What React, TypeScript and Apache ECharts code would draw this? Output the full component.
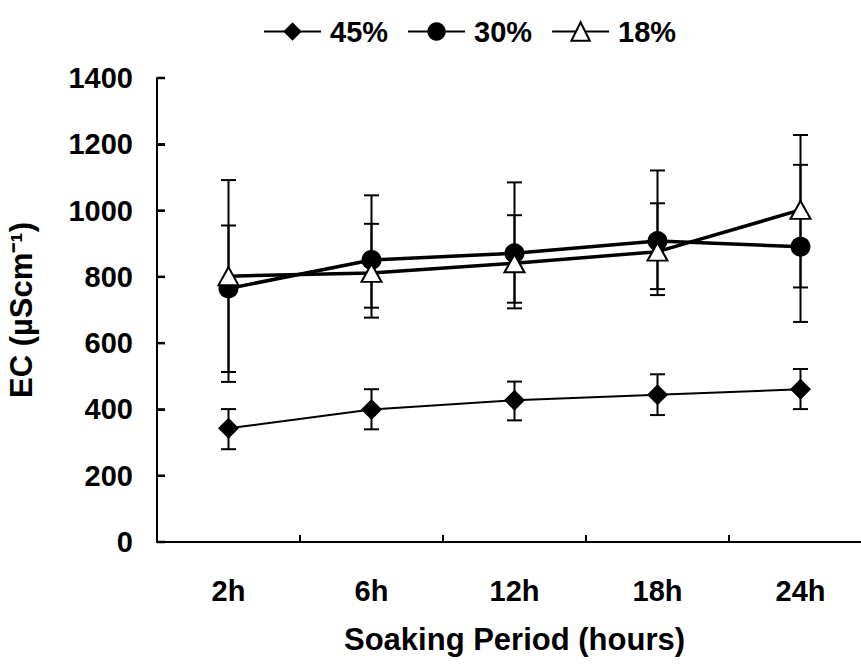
import React, { useEffect, useRef } from "react";
import * as echarts from "echarts";

const categories = ["2h", "6h", "12h", "18h", "24h"];
const seriesNames = ["45%", "30%", "18%"];

const ec45 = [343, 400, 428, 444, 461];
const ec45Low = [280, 340, 367, 383, 401];
const ec45High = [401, 461, 484, 506, 522];

const ec30 = [765, 851, 871, 908, 891];
const ec30Low = [483, 677, 705, 745, 664];
const ec30High = [955, 1046, 1085, 1121, 1138];

const ec18 = [802, 812, 841, 876, 1002];
const ec18Low = [513, 707, 722, 763, 768];
const ec18High = [1092, 960, 986, 1022, 1228];

const yTicks = { min: 0, max: 1400, interval: 200 };
const yTickValues = [0, 200, 400, 600, 800, 1000, 1200, 1400];

const FONT = "'Liberation Sans', Arial, sans-serif";

function errorSeries(name: string, low: number[], high: number[]) {
  return {
    type: "custom",
    name,
    silent: true,
    z: 1,
    encode: { x: 0, y: [1, 2] },
    data: low.map((l, i) => [i, l, high[i]]),
    renderItem: (params: any, api: any) => {
      const x = api.value(0);
      const lo = api.coord([x, api.value(1)]);
      const hi = api.coord([x, api.value(2)]);
      const w = 7.5;
      const st = { stroke: "#000", lineWidth: 2 };
      return {
        type: "group",
        children: [
          { type: "line", shape: { x1: hi[0], y1: hi[1], x2: lo[0], y2: lo[1] }, style: st },
          { type: "line", shape: { x1: hi[0] - w, y1: hi[1], x2: hi[0] + w, y2: hi[1] }, style: st },
          { type: "line", shape: { x1: lo[0] - w, y1: lo[1], x2: lo[0] + w, y2: lo[1] }, style: st },
        ],
      };
    },
  };
}

const yTickSeries = {
  type: "custom",
  name: "yticks",
  silent: true,
  z: 5,
  clip: false,
  encode: { x: 0, y: 1 },
  data: yTickValues.map((v) => [0, v]),
  renderItem: (params: any, api: any) => {
    const p = api.coord([0, api.value(1)]);
    const half = api.size([1, 0])[0] / 2;
    const x0 = p[0] - half;
    return {
      type: "group",
      children: [
        {
          type: "line",
          shape: { x1: x0, y1: p[1], x2: x0 + 8, y2: p[1] },
          style: { stroke: "#000", lineWidth: 2.5 },
        },
      ],
    };
  },
};

export default function App() {
  const ref = useRef<HTMLDivElement>(null);
  useEffect(() => {
    document.body.style.margin = "0";
    if (!ref.current) return;
    const chart = echarts.init(ref.current, undefined, { renderer: "svg" });
    chart.setOption({
      animation: false,
      backgroundColor: "#fff",
      textStyle: { fontFamily: FONT },
      legend: {
        data: seriesNames,
        left: 258,
        top: 12,
        itemWidth: 57,
        itemHeight: 23,
        itemGap: 19,
        textStyle: {
          fontSize: 29,
          fontWeight: "bold",
          color: "#000",
          fontFamily: FONT,
          padding: [0, 0, 0, 4],
        },
      },
      grid: {
        left: 157,
        right: -11,
        top: 78,
        bottom: 126,
        containLabel: false,
        outerBoundsMode: "none",
      },
      xAxis: {
        type: "category",
        data: categories,
        boundaryGap: true,
        name: "Soaking Period (hours)",
        nameLocation: "middle",
        nameGap: 82,
        nameTextStyle: { fontSize: 31, fontWeight: "bold", color: "#000", fontFamily: FONT },
        axisLine: { lineStyle: { color: "#000", width: 2 } },
        axisTick: { show: true, inside: true, length: 7, lineStyle: { color: "#000", width: 2 } },
        axisLabel: { fontSize: 29, fontWeight: "bold", color: "#000", margin: 34, fontFamily: FONT },
        splitLine: { show: false },
      },
      yAxis: {
        type: "value",
        min: yTicks.min,
        max: yTicks.max,
        interval: yTicks.interval,
        name: "EC (µScm⁻¹)",
        nameLocation: "middle",
        nameGap: 120,
        nameTextStyle: { fontSize: 31, fontWeight: "bold", color: "#000", fontFamily: FONT },
        axisLine: { show: true, lineStyle: { color: "#000", width: 2 } },
        axisTick: { show: true, inside: true, length: 8, lineStyle: { color: "#000", width: 2 } },
        axisLabel: {
          fontSize: 29,
          fontWeight: "bold",
          color: "#000",
          margin: 24,
          fontFamily: FONT,
          formatter: (v: number) => String(v),
        },
        splitLine: { show: false },
      },
      series: [
        yTickSeries,
        errorSeries("e45", ec45Low, ec45High),
        errorSeries("e30", ec30Low, ec30High),
        errorSeries("e18", ec18Low, ec18High),
        {
          name: seriesNames[0],
          type: "line",
          data: ec45,
          z: 3,
          symbol: "diamond",
          symbolSize: [21, 21],
          lineStyle: { color: "#000", width: 2 },
          itemStyle: { color: "#000", borderColor: "#000", borderWidth: 0 },
        },
        {
          name: seriesNames[1],
          type: "line",
          data: ec30,
          z: 3,
          symbol: "circle",
          symbolSize: 20,
          lineStyle: { color: "#000", width: 3.5 },
          itemStyle: { color: "#000", borderColor: "#000", borderWidth: 0 },
        },
        {
          name: seriesNames[2],
          type: "line",
          data: ec18,
          z: 3,
          symbol: "triangle",
          symbolSize: [20, 18],
          lineStyle: { color: "#000", width: 3.5 },
          itemStyle: { color: "#fff", borderColor: "#000", borderWidth: 2 },
        },
      ],
    });
    return () => chart.dispose();
  }, []);
  return <div ref={ref} style={{ width: 861, height: 668 }} />;
}
